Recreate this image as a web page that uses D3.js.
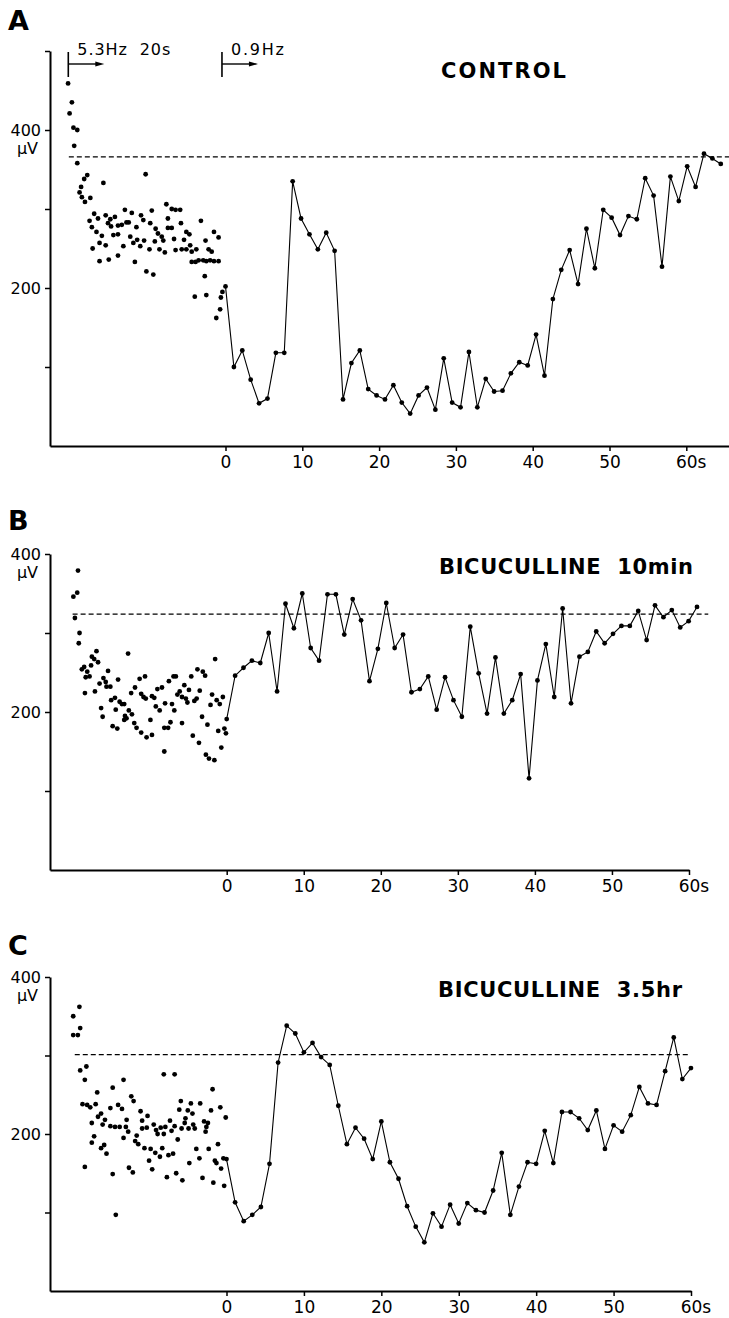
<!DOCTYPE html>
<html>
<head>
<meta charset="utf-8">
<script src="https://cdn.jsdelivr.net/npm/d3@7"></script>
<style>
  body { margin: 0; background: #fff; }
  text { font-family: "DejaVu Sans", "Liberation Sans", sans-serif; fill: #000; }
</style>
</head>
<body>
<div id="chart"></div>
<script>
// ---- data (µV) ----
const xTicks = [0, 10, 20, 30, 40, 50, 60];

// 0.9 Hz test responses after the 5.3 Hz train (one value per stimulus)
const lineA = [202, 100, 121, 84, 54, 60, 118, 118, 335, 288, 268, 249, 270, 247, 59, 105, 121, 72, 64, 59,
  77, 55, 41, 64, 74, 46, 111, 55, 49, 119, 49, 85, 69, 70, 92, 106, 102, 141, 89, 186,
  223, 248, 205, 275, 225, 299, 289, 267, 291, 287, 339, 317, 227, 341, 310, 354, 328, 370, 364, 357];
const lineB = [191, 246, 256, 265, 262, 300, 226, 337, 306, 350, 281, 265, 349, 349, 298, 343, 316, 239, 280, 338,
  281, 298, 225, 229, 245, 203, 244, 215, 194, 308, 249, 198, 269, 198, 215, 248, 116, 240, 286, 219,
  331, 211, 270, 276, 302, 287, 299, 309, 309, 328, 291, 335, 320, 329, 307, 315, 333];
const lineC = [168, 113, 89, 97, 107, 162, 291, 338, 328, 304, 316, 298, 288, 236, 187, 208, 194, 168, 216, 164,
  143, 108, 82, 62, 99, 82, 110, 86, 112, 103, 100, 128, 176, 97, 133, 164, 162, 204, 163, 228,
  228, 220, 205, 230, 181, 211, 203, 224, 260, 239, 237, 280, 323, 270, 284];

// seconds between plotted test stimuli in each panel
const intervalA = 1.093, intervalB = 1.09, intervalC = 1.111;

// 5.3 Hz train responses: time (s) and amplitude
const scatterA_t = [-20.5, -20.0, -20.3, -19.8, -19.3, -19.7, -19.3, -19.0, -18.8, -18.7, -18.4, -18.3, -18.0, -17.7, -17.6, -17.4, -17.3, -17.1, -16.8, -16.6,
  -16.4, -16.4, -16.1, -15.9, -15.6, -15.6, -15.3, -15.2, -15.0, -14.9, -14.6, -14.4, -14.0, -14.0, -14.0, -13.5, -13.3, -13.1, -12.9, -12.6,
  -12.4, -12.2, -12.0, -11.8, -11.6, -11.5, -11.1, -11.0, -10.7, -10.6, -10.4, -10.3, -9.9, -9.8, -9.6, -9.4, -9.2, -9.1, -8.8, -8.6,
  -8.3, -8.1, -7.9, -7.7, -7.5, -7.5, -7.0, -7.0, -6.7, -6.5, -6.5, -5.9, -5.8, -5.7, -5.4, -5.1, -5.1, -4.7, -4.6, -4.4,
  -4.4, -4.0, -3.9, -3.8, -3.5, -3.2, -2.9, -2.7, -2.6, -2.5, -2.5, -2.2, -2.0, -1.8, -1.5, -1.5, -1.2, -0.9, -0.9, -0.7,
  -0.6, -0.4];
const scatterA_v = [459, 435, 421, 403, 400, 380, 358, 321, 328, 315, 338, 309, 343, 285, 314, 277, 250, 294, 271, 288,
  257, 234, 266, 333, 292, 254, 282, 236, 287, 278, 267, 290, 279, 268, 241, 280, 253, 299, 283, 283,
  265, 295, 257, 233, 277, 261, 253, 292, 286, 260, 344, 221, 249, 282, 298, 217, 259, 275, 269, 249,
  265, 260, 245, 306, 288, 276, 300, 276, 262, 299, 248, 299, 282, 249, 261, 271, 249, 268, 254, 246,
  233, 189, 233, 249, 235, 285, 235, 215, 260, 234, 191, 249, 235, 246, 271, 234, 162, 264, 234, 173,
  188, 195];

const scatterB_t = [-19.3, -19.9, -19.4, -19.7, -19.1, -19.2, -18.8, -18.5, -18.4, -18.3, -18.1, -17.8, -17.6, -17.5, -17.2, -17.1, -16.9, -16.7, -16.5, -16.3,
  -16.1, -16.0, -15.7, -15.6, -15.4, -15.1, -15.0, -14.8, -14.5, -14.4, -14.2, -14.1, -13.9, -13.6, -13.3, -13.3, -13.2, -13.0, -12.8, -12.7,
  -12.4, -12.3, -12.0, -11.9, -11.7, -11.3, -11.1, -11.1, -10.8, -10.6, -10.5, -10.4, -9.9, -9.7, -9.7, -9.4, -9.2, -9.0, -8.7, -8.4,
  -8.1, -8.1, -8.0, -7.6, -7.5, -7.3, -7.1, -6.9, -6.8, -6.6, -6.4, -6.1, -5.8, -5.8, -5.5, -5.3, -5.1, -4.9, -4.6, -4.4,
  -4.2, -3.9, -3.8, -3.6, -3.5, -3.2, -3.1, -2.8, -2.7, -2.5, -2.3, -2.1, -1.9, -1.6, -1.5, -1.3, -1.1, -0.9, -0.7, -0.5,
  -0.3, -0.1];
const scatterB_v = [379, 346, 351, 319, 300, 287, 254, 257, 224, 244, 251, 245, 259, 270, 267, 226, 277, 263, 236, 205,
  194, 243, 238, 232, 252, 232, 215, 182, 218, 203, 179, 241, 213, 210, 210, 190, 195, 192, 274, 202,
  224, 197, 186, 231, 180, 242, 223, 174, 219, 245, 217, 168, 190, 171, 220, 218, 207, 229, 202, 231,
  180, 150, 211, 180, 239, 187, 210, 245, 202, 245, 222, 226, 186, 219, 234, 217, 212, 228, 245, 170,
  214, 217, 254, 161, 227, 194, 251, 246, 146, 184, 141, 209, 222, 139, 267, 215, 176, 210, 155, 219,
  179, 173];

const scatterC_t = [-19.8, -19.0, -18.9, -19.8, -19.2, -18.9, -18.1, -18.3, -18.6, -18.0, -17.6, -16.9, -16.7, -17.4, -18.3, -17.1, -17.4, -16.6, -16.2, -16.2,
  -15.8, -15.5, -16.0, -15.7, -15.0, -15.0, -14.7, -14.7, -14.4, -14.3, -14.0, -13.8, -13.5, -13.3, -13.3, -13.0, -12.9, -12.7, -12.6, -12.3,
  -12.0, -12.1, -11.8, -11.6, -11.4, -11.1, -10.9, -10.9, -10.6, -10.3, -10.2, -10.0, -9.8, -9.6, -9.4, -9.2, -9.1, -8.9, -8.6, -8.5,
  -8.3, -8.1, -8.1, -7.9, -7.7, -7.5, -7.3, -7.1, -6.9, -6.7, -6.7, -6.5, -6.3, -6.1, -5.9, -5.8, -5.7, -5.4, -5.3, -5.0,
  -4.8, -4.9, -4.6, -4.4, -4.3, -4.1, -3.9, -3.5, -3.4, -3.1, -2.9, -2.7, -2.6, -2.4, -2.3, -2.0, -1.8, -1.7, -1.5, -1.3,
  -1.1, -0.8, -0.7, -0.4, -0.3, -0.1];
const scatterC_v = [350, 362, 335, 326, 326, 281, 286, 269, 238, 237, 234, 238, 253, 214, 158, 197, 189, 222, 226, 182,
  186, 175, 212, 218, 233, 210, 259, 149, 209, 97, 237, 209, 232, 269, 195, 209, 218, 203, 157, 248,
  242, 151, 191, 198, 187, 229, 217, 207, 182, 208, 223, 166, 181, 155, 212, 176, 205, 200, 171, 208,
  182, 276, 200, 209, 145, 173, 217, 204, 175, 276, 210, 150, 193, 231, 242, 207, 141, 214, 220, 230,
  163, 207, 239, 226, 212, 207, 181, 169, 239, 144, 216, 203, 209, 214, 181, 230, 257, 138, 166, 163,
  187, 234, 156, 169, 134, 221];

// control (pre-train) amplitude, dashed reference
const baseA = 366, baseB = 324, baseC = 301;

// ---- layout ----
const width = 729, height = 1318;

const svg = d3.select("#chart").append("svg")
  .attr("width", width)
  .attr("height", height);

const panels = [
  { letter: "A", letterY: 30, title: "CONTROL", titleX: 441, titleY: 78, titleLen: 125,
    line: lineA, interval: intervalA, scT: scatterA_t, scV: scatterA_v, base: baseA,
    zeroPx: 225.5, sixtyPx: 686.3, leftPx: 50, rightPx: 729,
    y0: 446, yTop: 51, yMax: 500, yTicks: [100, 200, 300, 400, 500],
    dash: [-20.4, 66] },
  { letter: "B", letterY: 530, title: "BICUCULLINE  10min", titleX: 439, titleY: 574, titleLen: 254,
    line: lineB, interval: intervalB, scT: scatterB_t, scV: scatterB_v, base: baseB,
    zeroPx: 226.7, sixtyPx: 689, leftPx: 50, rightPx: 689,
    y0: 870, yTop: 554, yMax: 400, yTicks: [100, 200, 300, 400],
    dash: [-20, 62.5] },
  { letter: "C", letterY: 955, title: "BICUCULLINE  3.5hr", titleX: 438, titleY: 997, titleLen: 244,
    line: lineC, interval: intervalC, scT: scatterC_t, scV: scatterC_v, base: baseC,
    zeroPx: 226.5, sixtyPx: 691, leftPx: 50, rightPx: 691,
    y0: 1291, yTop: 977, yMax: 400, yTicks: [100, 200, 300, 400],
    dash: [-19.6, 59.9] }
];

panels.forEach(p => {
  const g = svg.append("g");

  // x scale: 0..60 s placed as in figure, then stretched to the axis extent
  const x = d3.scaleLinear().domain([0, 60]).range([p.zeroPx, p.sixtyPx]);
  x.domain([x.invert(p.leftPx), x.invert(p.rightPx)]).range([p.leftPx, p.rightPx]);
  const y = d3.scaleLinear().domain([0, p.yMax]).range([p.y0, p.yTop]);

  // panel letter + title
  g.append("text")
    .attr("x", 8).attr("y", p.letterY)
    .attr("font-size", 27).attr("font-weight", "bold")
    .text(p.letter);

  g.append("text")
    .attr("x", p.titleX).attr("y", p.titleY)
    .attr("font-size", 21).attr("font-weight", "bold")
    .attr("textLength", p.titleLen).attr("lengthAdjust", "spacing")
    .style("white-space", "pre")
    .text(p.title);

  // x axis
  const xAxis = g.append("g")
    .attr("transform", `translate(0,${p.y0})`)
    .call(d3.axisBottom(x).tickValues(xTicks).tickSize(5).tickPadding(5).tickSizeOuter(0)
      .tickFormat(d => d === 60 ? "60s" : d));
  xAxis.select(".domain").attr("stroke-width", 2);
  xAxis.selectAll(".tick line").attr("stroke-width", 1.5);
  xAxis.selectAll(".tick text").attr("font-size", 17).attr("fill", "#000");
  // keep "60" centred on its tick, "s" hanging to the right
  xAxis.selectAll(".tick text").filter(d => d === 60).each(function () {
    const t = d3.select(this);
    t.text("60");
    const w = this.getComputedTextLength();
    t.text("60s").attr("text-anchor", "start").attr("x", -w / 2);
  });

  // y axis
  const yAxis = g.append("g")
    .attr("transform", `translate(${p.leftPx},0)`)
    .call(d3.axisLeft(y).tickValues(p.yTicks).tickSize(5).tickPadding(4).tickSizeOuter(0)
      .tickFormat(d => (d === 200 || d === 400) ? d : ""));
  yAxis.select(".domain").attr("stroke-width", 2);
  yAxis.selectAll(".tick line").attr("stroke-width", 1.5);
  yAxis.selectAll(".tick text").attr("font-size", 16).attr("fill", "#000");

  g.append("text")
    .attr("x", p.leftPx - 12).attr("y", y(400) + 24)
    .attr("text-anchor", "end")
    .attr("font-size", 16)
    .text("µV");

  // dashed control level
  g.append("line")
    .attr("x1", x(p.dash[0])).attr("x2", Math.min(x(p.dash[1]), width))
    .attr("y1", y(p.base)).attr("y2", y(p.base))
    .attr("stroke", "#000").attr("stroke-width", 1.2)
    .attr("stroke-dasharray", "5,3");

  // 5.3 Hz train responses
  g.append("g").selectAll("circle")
    .data(p.scT.map((t, i) => ({ t: t, v: p.scV[i] })))
    .join("circle")
    .attr("cx", d => x(d.t))
    .attr("cy", d => y(d.v))
    .attr("r", 2.4)
    .attr("fill", "#000");

  // 0.9 Hz test responses
  const pts = p.line.map((v, i) => ({ t: i * p.interval, v: v }));
  g.append("path")
    .datum(pts)
    .attr("fill", "none")
    .attr("stroke", "#000")
    .attr("stroke-width", 1.1)
    .attr("d", d3.line().x(d => x(d.t)).y(d => y(d.v)));

  g.append("g").selectAll("circle")
    .data(pts)
    .join("circle")
    .attr("cx", d => x(d.t))
    .attr("cy", d => y(d.v))
    .attr("r", 2.4)
    .attr("fill", "#000");

  // stimulus markers (panel A only)
  if (p.letter === "A") {
    const stim = [
      { t: -20.47, label: "5.3Hz  20s", len: 93 },
      { t: -0.46, label: "0.9Hz", len: 53 }
    ];
    const arrowY = 64;
    stim.forEach(s => {
      const sx = x(s.t);
      g.append("line")
        .attr("x1", sx).attr("x2", sx).attr("y1", 52).attr("y2", 77)
        .attr("stroke", "#000").attr("stroke-width", 1.6);
      g.append("line")
        .attr("x1", sx).attr("x2", sx + 30).attr("y1", arrowY).attr("y2", arrowY)
        .attr("stroke", "#000").attr("stroke-width", 1.4);
      g.append("path")
        .attr("d", `M${sx + 36},${arrowY} L${sx + 27},${arrowY - 2.6} L${sx + 27},${arrowY + 2.6} Z`)
        .attr("fill", "#000");
      g.append("text")
        .attr("x", sx + 9).attr("y", 55)
        .attr("font-size", 16)
        .attr("textLength", s.len).attr("lengthAdjust", "spacing")
        .style("white-space", "pre")
        .text(s.label);
    });
  }
});
</script>
</body>
</html>
